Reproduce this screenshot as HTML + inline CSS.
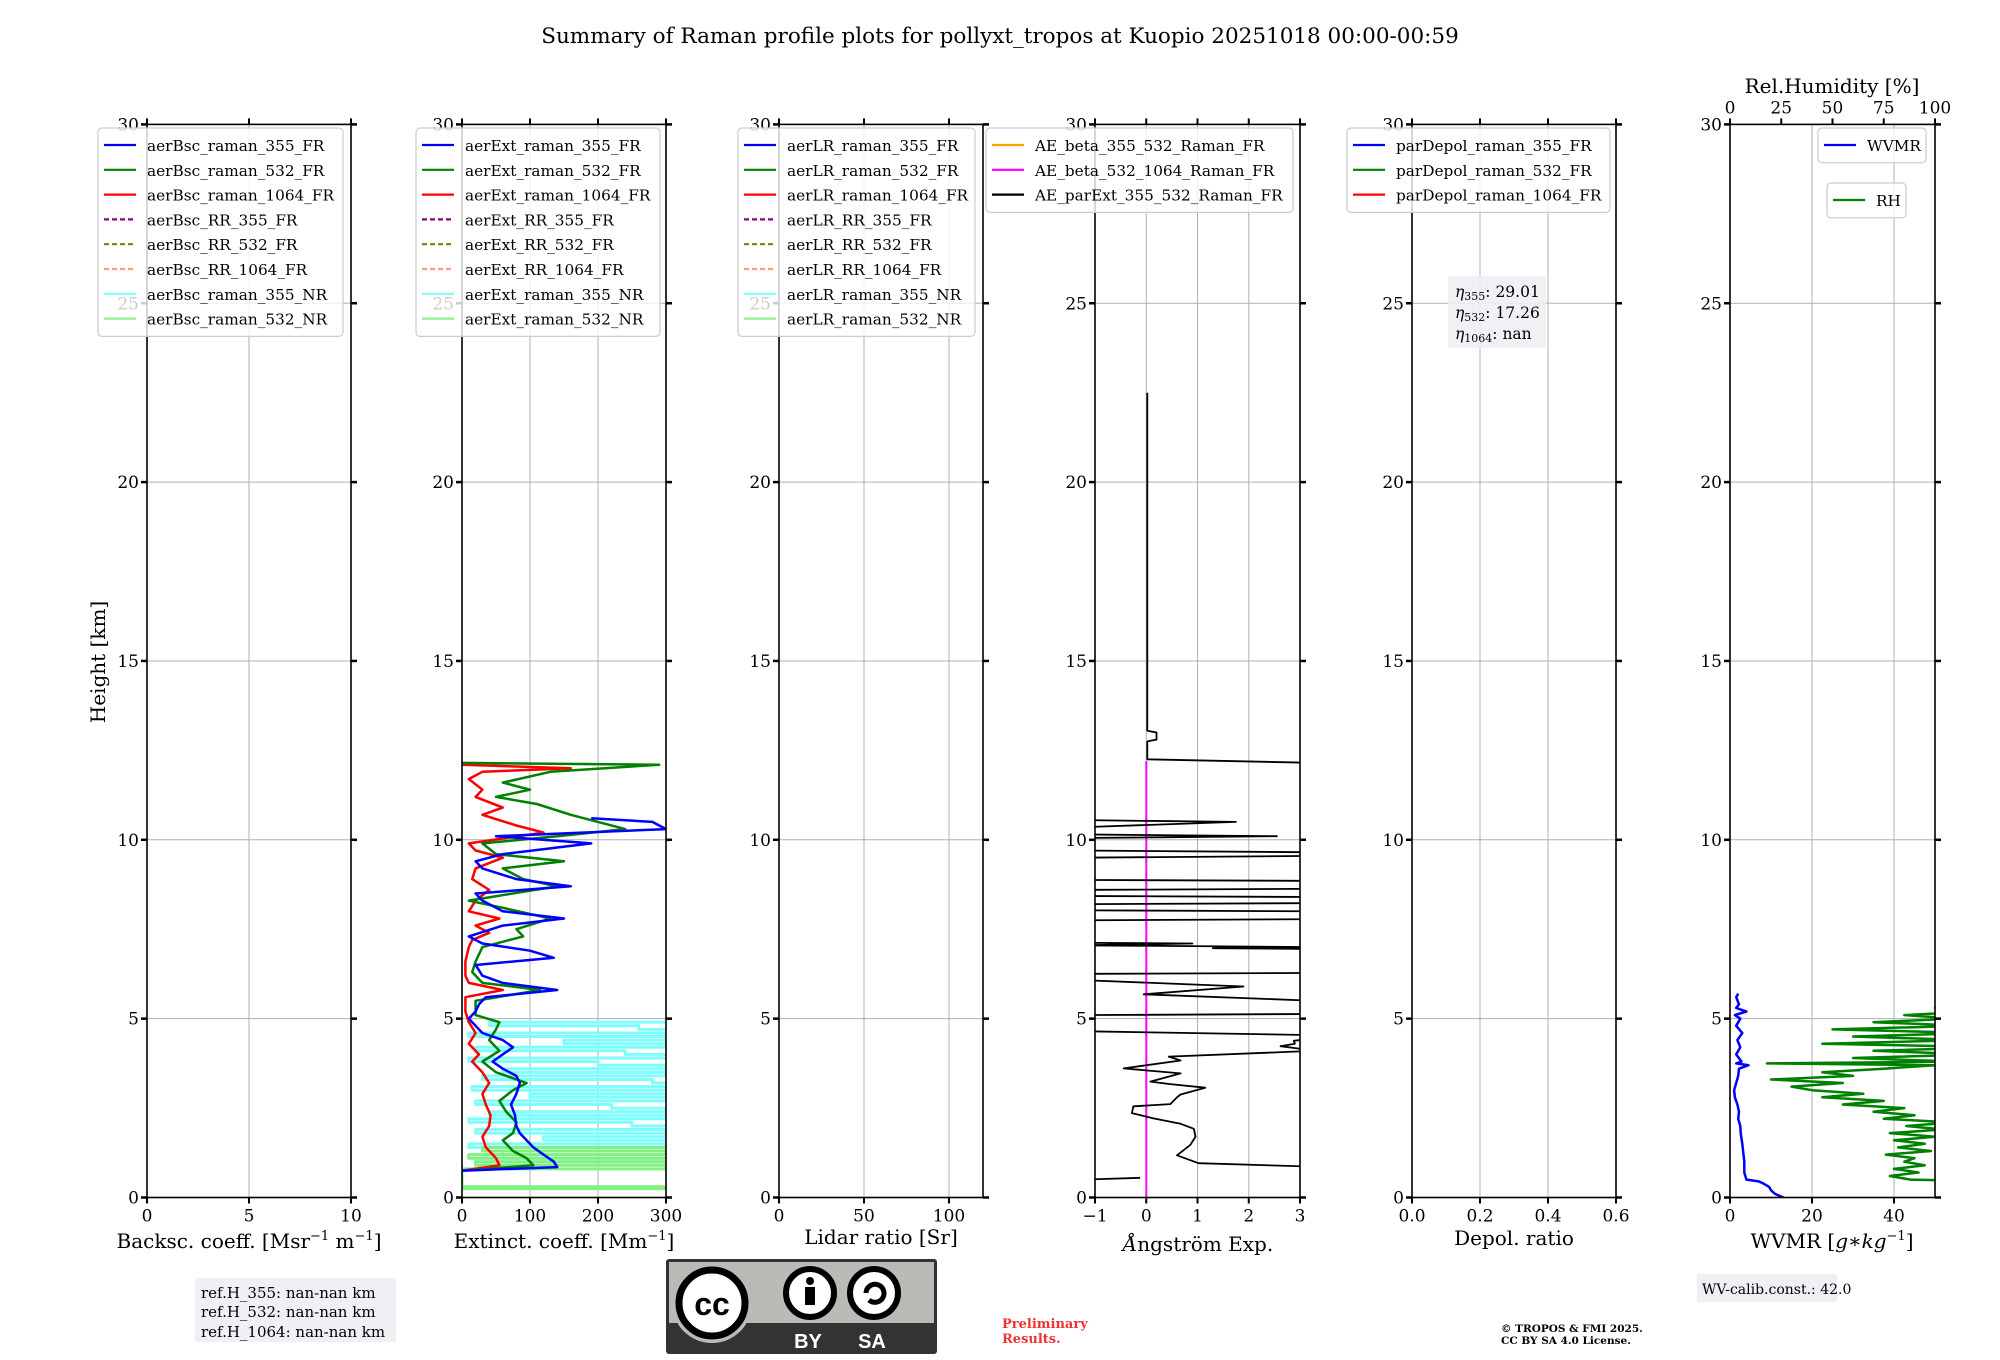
<!DOCTYPE html>
<html><head><meta charset="utf-8">
<style>
html,body{margin:0;padding:0;background:#fff;}
svg{display:block;font-family:"DejaVu Serif","Liberation Serif",serif;}
</style></head>
<body>
<svg id="fig" width="2000" height="1360" viewBox="0 0 2000 1360" xmlns="http://www.w3.org/2000/svg">
<text x="1000" y="43" font-size="21.5" text-anchor="middle">Summary of Raman profile plots for pollyxt_tropos at Kuopio 20251018 00:00-00:59</text>
<g id="plots"></g>
<text transform="translate(105,662) rotate(-90)" font-size="20" text-anchor="middle">Height [km]</text>
<text x="249" y="1248" font-size="20" text-anchor="middle">Backsc. coeff. [Msr<tspan dy="-8" font-size="13">−1</tspan><tspan dy="8"> m</tspan><tspan dy="-8" font-size="13">−1</tspan><tspan dy="8">]</tspan></text>
<text x="564" y="1248" font-size="20" text-anchor="middle">Extinct. coeff. [Mm<tspan dy="-8" font-size="13">−1</tspan><tspan dy="8">]</tspan></text>
<text x="881" y="1244" font-size="20" text-anchor="middle">Lidar ratio [Sr]</text>
<text x="1198" y="1251" font-size="20" text-anchor="middle"><tspan font-style="italic">Å</tspan>ngström Exp.</text>
<text x="1514" y="1245" font-size="20" text-anchor="middle">Depol. ratio</text>
<text x="1832" y="1248" font-size="20" text-anchor="middle">WVMR [<tspan font-style="italic">g</tspan>∗<tspan font-style="italic">kg</tspan><tspan dy="-8" font-size="13">−1</tspan><tspan dy="8">]</tspan></text>
<text x="1832" y="93" font-size="20" text-anchor="middle">Rel.Humidity [%]</text>

<g>
<rect x="195" y="1278" width="201" height="64" fill="#eef0f4" rx="2"/>
<text x="201" y="1298" font-size="15">ref.H_355: nan-nan km</text>
<text x="201" y="1317" font-size="15">ref.H_532: nan-nan km</text>
<text x="201" y="1337" font-size="15">ref.H_1064: nan-nan km</text>
</g>
<g>
<rect x="1448" y="276" width="98" height="72" fill="#eef0f4" fill-opacity="0.9" rx="2"/>
<text x="1455" y="297" font-size="15.5"><tspan font-style="italic">η</tspan><tspan font-size="11" dy="3">355</tspan><tspan dy="-3">: 29.01</tspan></text>
<text x="1455" y="318" font-size="15.5"><tspan font-style="italic">η</tspan><tspan font-size="11" dy="3">532</tspan><tspan dy="-3">: 17.26</tspan></text>
<text x="1455" y="339" font-size="15.5"><tspan font-style="italic">η</tspan><tspan font-size="11" dy="3">1064</tspan><tspan dy="-3">: nan</tspan></text>
</g>
<g>
<rect x="1697" y="1274" width="140" height="28" fill="#eef0f4" rx="2"/>
<text x="1702" y="1294" font-size="14">WV-calib.const.: 42.0</text>
</g>
<g>
<rect x="666" y="1259" width="271" height="95" fill="#333" rx="3"/>
<rect x="669" y="1262" width="265" height="61" fill="#b9bcb6"/>
<circle cx="712" cy="1303" r="40" fill="#b9bcb6"/>
<circle cx="712" cy="1303" r="33" fill="#fff" stroke="#000" stroke-width="7"/>
<text x="712" y="1315" font-size="32" font-family="Liberation Sans" font-weight="bold" text-anchor="middle">cc</text>
<circle cx="810" cy="1293" r="24" fill="#fff" stroke="#000" stroke-width="6"/>
<circle cx="810" cy="1281" r="4" fill="#000"/>
<rect x="805" y="1287" width="10" height="18" fill="#000"/>
<circle cx="874" cy="1293" r="24" fill="#fff" stroke="#000" stroke-width="6"/>
<path d="M866 1293 a9 9 0 1 1 3 7" fill="none" stroke="#000" stroke-width="5"/>
<text x="808" y="1348" font-size="20" font-family="Liberation Sans" font-weight="bold" fill="#fff" text-anchor="middle">BY</text>
<text x="872" y="1348" font-size="20" font-family="Liberation Sans" font-weight="bold" fill="#fff" text-anchor="middle">SA</text>
</g>
<text x="1002" y="1328" font-size="13" font-weight="bold" fill="#ee3333">Preliminary</text>
<text x="1002" y="1343" font-size="13" font-weight="bold" fill="#ee3333">Results.</text>
<text x="1501" y="1332" font-size="10.5" font-weight="bold">© TROPOS &amp; FMI 2025.</text>
<text x="1501" y="1344" font-size="10.5" font-weight="bold">CC BY SA 4.0 License.</text>
</svg>
<script>
// ---- data ----
const ext355H = [0.75,0.85,1.0,1.2,1.4,1.6,1.8,2.0,2.3,2.6,2.9,3.2,3.4,3.6,3.8,4.0,4.2,4.4,4.6,4.8,5.0,5.2,5.4,5.6,5.8,6.0,6.2,6.5,6.7,6.9,7.1,7.3,7.6,7.8,8.0,8.3,8.5,8.7,8.9,9.2,9.4,9.6,9.9,10.1,10.3,10.5,10.6];
const ext355V = [0,140,135,120,105,95,85,80,78,72,80,85,80,60,45,60,75,60,30,20,10,20,25,35,140,60,30,20,135,100,30,10,60,150,60,30,20,160,80,30,20,60,190,50,300,280,190];
const ext532H = [0.75,0.9,1.1,1.3,1.6,1.8,2.1,2.4,2.7,3.0,3.2,3.5,3.8,4.1,4.4,4.7,4.9,5.1,5.5,5.8,6.0,6.3,6.6,7.0,7.3,7.5,7.8,8.1,8.3,8.7,8.9,9.2,9.4,9.6,9.9,10.1,10.3,10.5,10.7,11.0,11.2,11.4,11.6,11.9,12.1,12.15];
const ext532V = [0,105,95,75,60,75,80,65,55,75,95,50,30,55,40,50,55,20,20,115,30,15,20,30,90,80,130,60,10,140,90,60,150,50,30,140,240,200,160,110,50,100,60,130,290,0];
const ext1064H = [0.75,0.9,1.1,1.4,1.7,2.0,2.3,2.6,2.9,3.2,3.5,3.8,4.0,4.3,4.6,4.9,5.2,5.6,5.8,6.0,6.2,6.6,7.0,7.2,7.4,7.6,7.8,8.0,8.3,8.6,8.9,9.2,9.5,9.7,9.9,10.2,10.4,10.7,10.9,11.2,11.4,11.7,11.9,12.0,12.1];
const ext1064V = [0,55,50,35,30,40,42,35,30,40,30,15,25,10,20,10,5,5,60,10,5,5,10,15,40,20,55,10,20,40,15,20,60,20,10,120,80,30,60,20,30,10,30,160,0];
const extNR355H = [0.9,1.0,1.1,1.2,1.3,1.4,1.5,1.6,1.7,1.8,1.9,2.0,2.1,2.2,2.3,2.4,2.5,2.6,2.7,2.8,2.9,3.0,3.1,3.2,3.3,3.4,3.5,3.6,3.7,3.8,3.9,4.0,4.1,4.2,4.3,4.4,4.5,4.6,4.7,4.8,4.9,5.0];
const extNR355V = [400,20,400,60,400,10,400,120,400,20,400,250,10,400,40,400,220,20,400,100,400,15,400,280,30,400,60,400,200,10,400,240,20,400,150,400,10,400,260,40,400,400];
const extNR532H = [0.2,0.25,0.3,0.8,0.9,1.0,1.1,1.2,1.3,1.4];
const extNR532V = [0,400,0,400,20,400,10,400,30,400];
const aeH = [0.5,0.55,null,0.86,0.96,1.18,1.47,1.7,1.92,2.06,2.21,2.36,2.55,2.61,2.8,2.88,3.07,3.17,3.24,3.47,3.61,3.83,3.94,4.1,4.23,4.3,4.38,4.45,4.54,4.65,5.1,5.13,5.5,5.68,5.9,6.08,6.25,6.28,6.95,6.97,7.0,7.05,7.1,7.12,7.75,7.78,8.0,8.03,8.2,8.23,8.4,8.43,8.6,8.63,8.85,8.88,9.5,9.55,9.65,9.7,10.05,10.1,10.15,10.35,10.5,10.55,null,12.15,12.25,12.75,12.8,13.0,13.05,22.5];
const aeV = [-1.2,-0.12,null,3.3,1.02,0.6,0.86,0.96,0.93,0.67,0.14,-0.28,-0.25,0.47,0.6,0.67,1.15,0.47,0.08,0.67,-0.44,0.67,0.44,3.3,2.62,2.9,2.88,3.3,3.3,-1.3,-1.3,3.3,3.3,-0.05,1.9,-1.3,-1.3,3.3,3.3,1.3,3.3,-1.3,0.9,-1.3,-1.3,3.3,3.3,-1.3,-1.3,3.3,3.3,-1.3,-1.3,3.3,3.3,-1.3,-1.3,3.3,3.3,-1.3,-1.3,2.55,-1.3,-1.3,1.75,-1.3,null,3.3,0.02,0.02,0.2,0.2,0.02,0.02];
const ae532H = [0,12.2];
const ae532V = [0,0];
const wvH = [0,0.1,0.2,0.3,0.4,0.45,0.5,0.7,1.0,1.3,1.5,1.8,2.0,2.2,2.4,2.6,2.8,3.0,3.2,3.4,3.6,3.7,3.75,3.8,4.0,4.2,4.4,4.6,4.8,5.0,5.1,5.2,5.3,5.4,5.6,5.7];
const wvV = [13,11,10,9.5,8,7,4,3.5,3.5,3.2,3,2.6,2.5,2,2.2,1.8,1.2,1,1.5,2,2.2,4.5,1.5,2.8,1.5,2.5,1.8,3,1.5,2.5,1.2,4,1.5,2.2,1.5,2];
const rhH = [0.45,0.5,0.6,0.7,0.8,0.9,1.0,1.1,1.2,1.3,1.4,1.5,1.6,1.7,1.8,1.9,2.0,2.1,2.2,2.3,2.4,2.5,2.6,2.7,2.8,2.9,3.0,3.1,3.2,3.3,3.4,3.5,3.6,3.7,3.75,3.8,3.9,4.0,4.1,4.2,4.3,4.4,4.5,4.6,4.7,4.8,4.9,5.0,5.1,5.2,5.3,5.35];
const rhV = [125,88,78,92,80,95,85,90,76,98,82,95,80,100,78,104,86,108,75,90,70,85,55,75,45,65,40,30,55,20,60,45,75,100,18,110,60,120,70,130,45,115,60,120,50,115,70,110,85,120,100,120];
// ---- axes ----
const Y0=1197.5, PXKM=35.77;
function yH(h){return Y0-h*PXKM;}
const NS="http://www.w3.org/2000/svg";
const root=document.getElementById('plots');
function el(tag,attrs,parent){const e=document.createElementNS(NS,tag);for(const k in attrs)e.setAttribute(k,attrs[k]);(parent||root).appendChild(e);return e;}
function makeX(x0,x1,a,b){return v=>x0+(v-a)/(b-a)*(x1-x0);}
const panels=[
 {id:'backscatter',x0:147,x1:351,a:0,b:10,ticks:[0,5,10],lab:['0','5','10']},
 {id:'extinction',x0:462,x1:666,a:0,b:300,ticks:[0,100,200,300],lab:['0','100','200','300']},
 {id:'lidar-ratio',x0:779,x1:983,a:0,b:120,ticks:[0,50,100],lab:['0','50','100']},
 {id:'angstrom',x0:1095,x1:1300,a:-1,b:3,ticks:[-1,0,1,2,3],lab:['−1','0','1','2','3']},
 {id:'depol',x0:1412,x1:1616,a:0,b:0.6,ticks:[0,0.2,0.4,0.6],lab:['0.0','0.2','0.4','0.6']},
 {id:'wvmr',x0:1730,x1:1935,a:0,b:50,ticks:[0,20,40],lab:['0','20','40']}
];
const hTicks=[0,5,10,15,20,25,30];
panels.forEach((p,i)=>{
  const g=el('g',{});
  
  
  const X=makeX(p.x0,p.x1,p.a,p.b); p.X=X;
  const cp=el('clipPath',{id:'clip'+i},g);
  el('rect',{x:p.x0,y:yH(30),width:p.x1-p.x0,height:30*PXKM},cp);
  p.clip='url(#clip'+i+')';
  hTicks.forEach(h=>{ if(h>0&&h<30){const l=el('line',{x1:p.x0,x2:p.x1,y1:yH(h),y2:yH(h),stroke:'#b0b0b0','stroke-width':1},g);
    }});
  p.ticks.forEach(t=>{const x=X(t); if(x>p.x0+1&&x<p.x1-1){const l=el('line',{x1:x,x2:x,y1:yH(30),y2:yH(0),stroke:'#b0b0b0','stroke-width':1},g);
    }});
  p.g=g;
});
function drawLine(p,H,V,color,w,name,vScale,step){
  let d='',pen=false;
  for(let k=0;k<H.length;k++){
    if(H[k]===null||V[k]===null){pen=false;continue;}
    const x=p.X(V[k]*(vScale||1)),y=yH(H[k]);
    if(step&&pen){d+='V'+y.toFixed(1)+'H'+x.toFixed(1);}
    else d+=(pen?'L':'M')+x.toFixed(1)+' '+y.toFixed(1);
    pen=true;
  }
  const e=el('path',{d:d,fill:'none',stroke:color,'stroke-width':w,'clip-path':p.clip,'stroke-linejoin':'round'},p.g);
  
  
}
drawLine(panels[1],extNR355H,extNR355V,'#7ffdfd',3,'ext-raman-355-nr-line',1,true);
drawLine(panels[1],extNR532H,extNR532V,'#80f080',3,'ext-raman-532-nr-line',1,true);
drawLine(panels[1],ext1064H,ext1064V,'#ff0000',2.5,'ext-raman-1064-fr-line');
drawLine(panels[1],ext532H,ext532V,'#008000',2.5,'ext-raman-532-fr-line');
drawLine(panels[1],ext355H,ext355V,'#0000ff',2.5,'ext-raman-355-fr-line');
drawLine(panels[3],ae532H,ae532V,'#ff00ff',2,'ae-beta-532-1064-line');
drawLine(panels[3],aeH,aeV,'#000000',1.8,'ae-parext-355-532-line');
drawLine(panels[5],rhH,rhV,'#008000',2.5,'rh-line',0.5);
drawLine(panels[5],wvH,wvV,'#0000ff',2.5,'wvmr-line');
// spines, ticks, labels
panels.forEach((p,i)=>{
  const g=p.g,X=p.X;
  const r=el('rect',{x:p.x0,y:yH(30),width:p.x1-p.x0,height:30*PXKM,fill:'none',stroke:'#000','stroke-width':1.6},g);
  
  hTicks.forEach(h=>{
    el('line',{x1:p.x0-6,x2:p.x0,y1:yH(h),y2:yH(h),stroke:'#000','stroke-width':2.5},g);
    el('line',{x1:p.x1,x2:p.x1+6,y1:yH(h),y2:yH(h),stroke:'#000','stroke-width':2.5},g);
    const t=el('text',{x:p.x0-8,y:yH(h)+6,'font-size':17,'text-anchor':'end',fill:'#000'},g);
    t.textContent=String(h);
    
  });
  p.ticks.forEach((tv,k)=>{
    const x=X(tv);
    el('line',{x1:x,x2:x,y1:yH(0),y2:yH(0)+6,stroke:'#000','stroke-width':2},g);
    if(i<5) el('line',{x1:x,x2:x,y1:yH(30)-6,y2:yH(30),stroke:'#000','stroke-width':2},g);
    const t=el('text',{x:x,y:yH(0)+24,'font-size':17,'text-anchor':'middle'},g);
    t.textContent=p.lab[k];
    
  });
});
// RH top axis
const rhTicks=[0,25,50,75,100];
rhTicks.forEach(v=>{
  const x=panels[5].X(v*0.5);
  el('line',{x1:x,x2:x,y1:yH(30)-6,y2:yH(30),stroke:'#000','stroke-width':2});
  const t=el('text',{x:x,y:yH(30)-11,'font-size':17,'text-anchor':'middle'});
  t.textContent=String(v);
  
});
// legends
function legend(x,y,w,entries,name){
  const g=el('g',{});
  
  
  el('rect',{x:x,y:y,width:w,height:entries.length*24.8+10,fill:'#fff','fill-opacity':0.8,stroke:'#cccccc','stroke-width':1.2,rx:4},g);
  entries.forEach((e,k)=>{
    const yy=y+17+k*24.8;
    const l=el('line',{x1:x+6,x2:x+38,y1:yy,y2:yy,stroke:e[1],'stroke-width':2.2},g);
    if(e[2]) l.setAttribute('stroke-dasharray','5,3');
    const t=el('text',{x:x+49,y:yy+6,'font-size':15.3},g);
    t.textContent=e[0];
    
  });
}
function eight(pre){return [[pre+'_raman_355_FR','#0000ff'],[pre+'_raman_532_FR','#008000'],[pre+'_raman_1064_FR','#ff0000'],[pre+'_RR_355_FR','#800080',1],[pre+'_RR_532_FR','#808000',1],[pre+'_RR_1064_FR','#ffa07a',1],[pre+'_raman_355_NR','#7ffdfd'],[pre+'_raman_532_NR','#90ee90']];}
legend(98,128,245,eight('aerBsc'),'backscatter-legend');
legend(416,128,244,eight('aerExt'),'extinction-legend');
legend(738,128,237,eight('aerLR'),'lidar-ratio-legend');
legend(986,128,307,[['AE_beta_355_532_Raman_FR','#ffa500'],['AE_beta_532_1064_Raman_FR','#ff00ff'],['AE_parExt_355_532_Raman_FR','#000000']],'angstrom-legend');
legend(1347,128,263,[['parDepol_raman_355_FR','#0000ff'],['parDepol_raman_532_FR','#008000'],['parDepol_raman_1064_FR','#ff0000']],'depol-legend');
legend(1818,128,108,[['WVMR','#0000ff']],'wvmr-legend');
legend(1827,183,79,[['RH','#008000']],'rh-legend');
</script>
</body></html>
